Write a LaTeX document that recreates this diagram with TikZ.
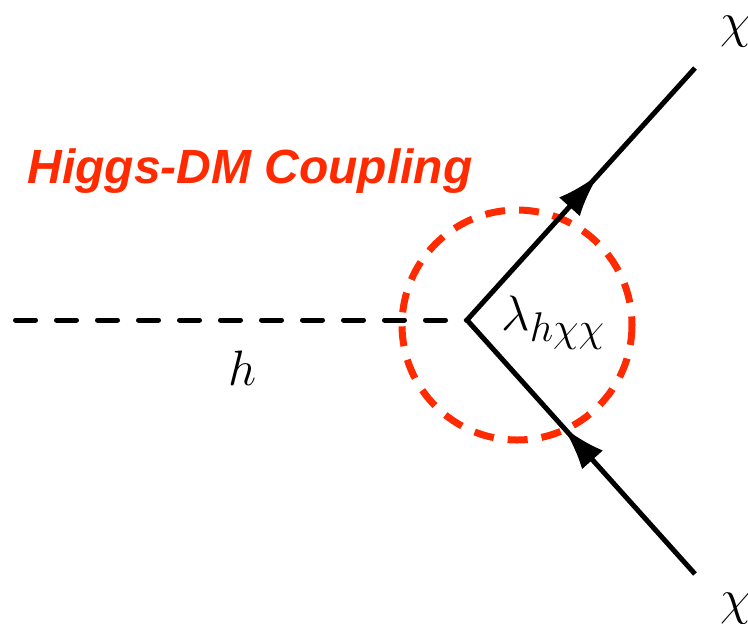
\documentclass[tikz,border=0pt]{standalone}
\usepackage{fontspec}
\newfontfamily\headfont{Liberation Sans}
\usepackage{tikz}
\usetikzlibrary{arrows.meta,decorations.markings}
\definecolor{ink}{HTML}{000000}
\definecolor{accent}{HTML}{FF2A00}
\tikzset{
  fermion/.style={line width=2.5pt, draw=ink, postaction={decorate},
    decoration={markings,
      mark=at position 0.29 with {\arrow{Latex[length=22pt,width=14pt]}},
      mark=at position 0.79 with {\arrow{Latex[length=22pt,width=14pt]}}}},
  scalar/.style={line width=2.5pt, draw=ink, line cap=round, dash pattern=on 10pt off 10.5pt},
  blob/.style={line width=3.5pt, draw=accent, dash pattern=on 10pt off 7pt},
  lab/.style={font=\Huge, text=ink, inner sep=0pt},
  head/.style={font=\headfont\bfseries\itshape\fontsize{24}{28}\selectfont, text=accent, inner sep=0pt},
}

\begin{document}
\begin{tikzpicture}[x=0.5pt, y=-0.5pt]
  \useasboundingbox (0,0) rectangle (748,623);
  % vertex and line ends
  \coordinate (v) at (467,320);
  \coordinate (hL) at (15.5,320);
  \coordinate (endU) at (695,68);
  \coordinate (endL) at (695,574);
  % coupling blob
  \draw[blob] (517,325) circle (115);
  % propagators
  \draw[scalar] (hL) -- (v);
  \draw[fermion] (endL) -- (v) -- (endU);
  % labels
  \node[lab, anchor=base] (hlab) at (243,385) {$h$};
  \node[lab, anchor=base west] (lam) at (501,330) {$\lambda_{h\chi\chi}$};
  \node[lab, anchor=base west] (chiU) at (720,37) {$\chi$};
  \node[lab, anchor=base west] (chiL) at (720,614) {$\chi$};
  \node[head, anchor=base] (title) at (250,183) {Higgs-DM Coupling};
\end{tikzpicture}
\end{document}
